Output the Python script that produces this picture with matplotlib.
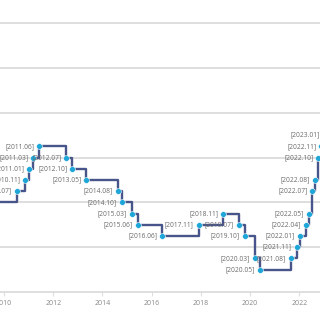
import pandas as pd
import matplotlib
matplotlib.use("Agg")
import matplotlib.pyplot as plt

# Base rate changes (date of change, new rate in %)
dates = [
    "2009-02-12", "2010-07-09", "2010-11-16", "2011-01-13", "2011-03-10",
    "2011-06-10", "2012-07-12", "2012-10-11", "2013-05-09", "2014-08-14",
    "2014-10-15", "2015-03-12", "2015-06-11", "2016-06-09", "2017-11-30",
    "2018-11-30", "2019-07-18", "2019-10-16", "2020-03-17", "2020-05-28",
    "2021-08-26", "2021-11-25", "2022-01-14", "2022-04-14", "2022-05-26",
    "2022-07-13", "2022-08-25", "2022-10-12", "2022-11-24", "2023-01-13",
]
rates = [
    2.00, 2.25, 2.50, 2.75, 3.00,
    3.25, 3.00, 2.75, 2.50, 2.25,
    2.00, 1.75, 1.50, 1.25, 1.50,
    1.75, 1.50, 1.25, 0.75, 0.50,
    0.75, 1.00, 1.25, 1.50, 1.75,
    2.25, 2.50, 3.00, 3.25, 3.50,
]
year_ticks = [2010, 2012, 2014, 2016, 2018, 2020, 2022]

# ===============================
# Prepare data
# ===============================
d = pd.to_datetime(dates)
x = d.year + (d.dayofyear - 1) / 365.25
labels = [f"[{t.year}.{t.month:02d}]" for t in d]

line_color = "#48558a"
dot_color = "#1ea6d8"
grid_color = "#dedede"

x_left = 2010 - 4 / 24.6
x_right = 2010 + 316 / 24.6

# ===============================
# Plot
# ===============================
fig = plt.figure(figsize=(3.2, 3.2), dpi=100)
ax = fig.add_axes([0, 28 / 320, 1, 292 / 320])

for v in range(1, 7):
    ax.axhline(v, color=grid_color, lw=1.4, zorder=0)

ax.step(x, rates, where="post", color=line_color, lw=1.7, zorder=2)
ax.plot(x, rates, "o", color=dot_color, ms=4.2, mec="white", mew=0.4, zorder=3)

for xi, yi, lab in zip(x, rates, labels):
    ax.annotate(lab, (xi, yi), xytext=(-3.5, 0), textcoords="offset points",
                ha="right", va="center", fontsize=4.8, color="#6a6a6a",
                family="Open Sans", annotation_clip=bool(xi < x_left),
                zorder=4)

ax.set_xlim(x_left, x_right)
ax.set_ylim(0, 292 / 44.8)

ax.set_xticks(year_ticks)
ax.set_xticklabels([str(t) for t in year_ticks], fontsize=5.0,
                   color="#888888", family="Open Sans")
ax.tick_params(axis="x", length=3, width=0.8, color=grid_color, pad=3)
ax.set_yticks([])

for s in ["top", "left", "right"]:
    ax.spines[s].set_visible(False)
ax.spines["bottom"].set_color("#d6d6d6")
ax.spines["bottom"].set_linewidth(1.1)

fig.savefig("out.png", dpi=100)
plt.close(fig)
